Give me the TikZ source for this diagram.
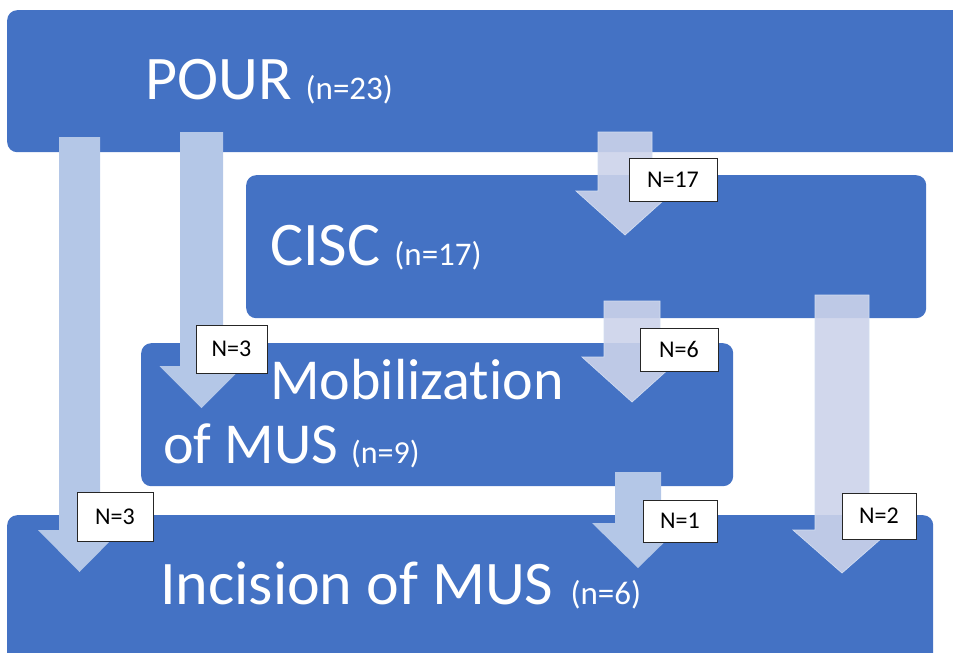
\documentclass[tikz,border=0pt]{standalone}
\usepackage{fontspec}
\setmainfont[Ligatures=NoCommon]{Carlito}
\definecolor{boxblue}{HTML}{4472C4}
\definecolor{arrowlight}{HTML}{B4C7E7}
\definecolor{arrowpale}{HTML}{CCD3EA}
\newcommand{\flowarrow}[7]{% style, cx, ytop, yhead, ytip, halfshaft, halfhead
  \path[#1] (#2-#6,#3) -- (#2+#6,#3) -- (#2+#6,#4) -- (#2+#7,#4) -- (#2,#5)
    -- (#2-#7,#4) -- (#2-#6,#4) -- cycle;}
\tikzset{
  stage/.style={fill=boxblue, rounded corners=10pt, inner sep=0pt, anchor=north west},
  flowsolid/.style={fill=arrowlight},
  flowpale/.style={fill=arrowpale, fill opacity=0.9, draw=arrowlight!60!white, line width=0.7pt},
  count/.style={draw=black!85, fill=white, line width=0.9pt, inner sep=0pt,
    font=\fontsize{24}{24}\selectfont},
  bigtext/.style={text=white, inner sep=0pt, anchor=base west, font=\fontsize{62}{62}\selectfont}
}
\begin{document}
\begin{tikzpicture}[x=1pt, y=-1pt]
\useasboundingbox (0,0) rectangle (953,653);
\clip (0,0) rectangle (953,653);
% stage boxes
\node[stage, minimum width=990pt, minimum height=142pt] (pour) at (7,10) {};
\node[stage, minimum width=680pt, minimum height=143pt] (cisc) at (246,175) {};
\node[stage, minimum width=592pt, minimum height=143pt] (mob) at (141,343) {};
\node[stage, minimum width=926pt, minimum height=170pt] (inc) at (7,515) {};
% texts
\node[bigtext] (pourtxt) at (145,99) {POUR {\fontsize{33}{33}\selectfont(n=23)}};
\node[bigtext] (cisctxt) at (270,265) {CISC {\fontsize{33}{33}\selectfont(n=17)}};
\node[bigtext, font=\fontsize{58}{58}\selectfont] (mobtxtA) at (270,399) {Mobilizat\kern0pt ion};
\node[bigtext, font=\fontsize{58}{58}\selectfont] (mobtxtB) at (163,463) {of MUS {\fontsize{32}{32}\selectfont(n=9)}};
\node[bigtext] (inctxt) at (160,604) {Incision of MUS\hspace{3pt} {\fontsize{33}{33}\selectfont(n=6)}};
% block arrows
\flowarrow{flowsolid}{79.5}{137}{530}{572}{20.5}{41.5}
\flowarrow{flowsolid}{201.5}{132}{366}{408}{21.5}{42}
\flowarrow{flowpale}{625}{132}{191}{235}{27}{49}
\flowarrow{flowpale}{632}{301}{357}{402}{28}{50}
\flowarrow{flowsolid}{638}{472}{523}{568}{23}{46}
\flowarrow{flowpale}{842}{295}{530}{573}{27}{49}
% count labels
\node[count, minimum width=76pt, minimum height=49pt] (nA) at (115,516.5) {N=3};
\node[count, minimum width=71pt, minimum height=48pt] (nB) at (231.5,349) {N=3};
\node[count, minimum width=88pt, minimum height=43pt] (nC) at (673,179.5) {N=17};
\node[count, minimum width=78pt, minimum height=43pt] (nD) at (679,349.5) {N=6};
\node[count, minimum width=74pt, minimum height=42pt] (nE) at (680,521) {N=1};
\node[count, minimum width=74pt, minimum height=46pt] (nF) at (879,516) {N=2};
\end{tikzpicture}
\end{document}
